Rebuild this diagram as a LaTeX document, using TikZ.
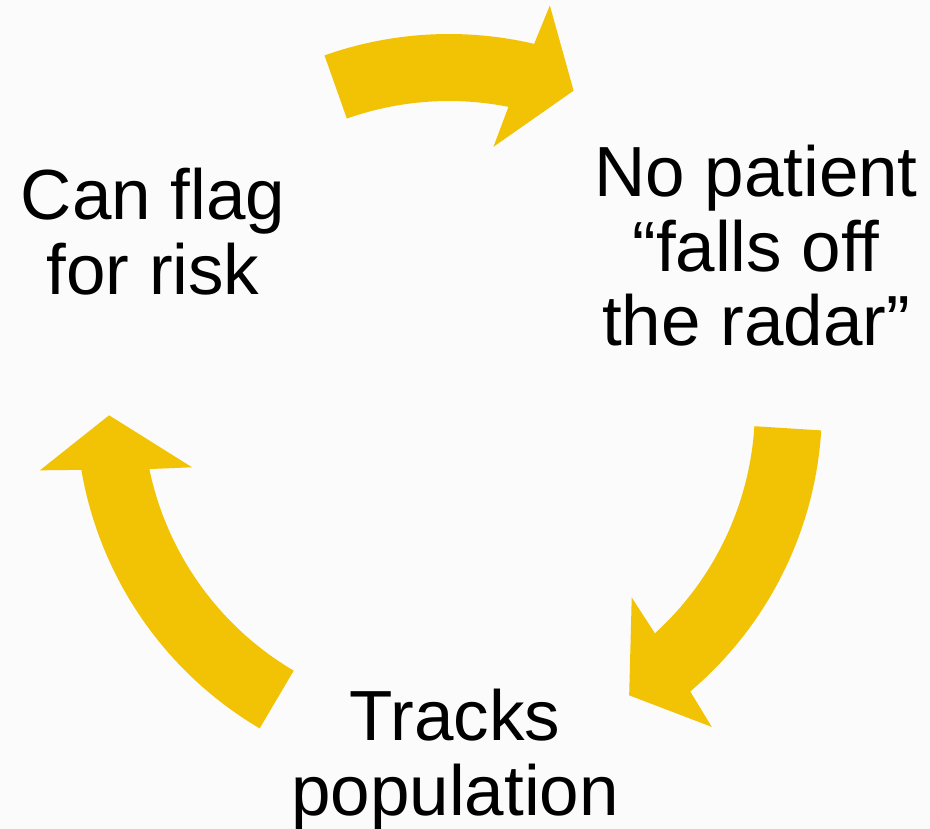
\documentclass[tikz,border=0pt]{standalone}
\usepackage{fontspec}
\setmainfont{Liberation Sans}
\usepackage{xcolor}
\usepackage{tikz}
\usetikzlibrary{positioning,calc}
\definecolor{cycyellow}{RGB}{242,194,5}
\definecolor{paper}{RGB}{251,251,251}

\begin{document}
\begin{tikzpicture}[x=1pt, y=1pt, lbl/.style={font=\fontsize{71}{75}\selectfont, align=center, anchor=base, inner sep=0pt}, cyc/.style={fill=cycyellow}]
\path[use as bounding box, fill=paper] (0,0) rectangle (930,-829);
\node[lbl] (flag) at (153,-295) {Can flag\\for risk};
\node[lbl] (radar) at (756,-346) {No patient\\“falls off\\the radar”};
\node[lbl] (tracks) at (455,-815) {Tracks\\population};
% the three block arcs round the middle
\begin{scope}[shift={(449,-407)}]
\foreach \tl/\tp in {109.5/68.5, -3.6/-58, 239.5/181.4}
  \fill[cyc] (\tl:373) arc[start angle=\tl, end angle=\tp+8.3, radius=373]
    -- ({\tp+7.4}:414) -- (\tp:340) -- ({\tp+11.8}:264) -- ({\tp+10.3}:306)
    arc[start angle=\tp+10.3, end angle=\tl, radius=306] -- cycle;
\end{scope}
\end{tikzpicture}
\end{document}
